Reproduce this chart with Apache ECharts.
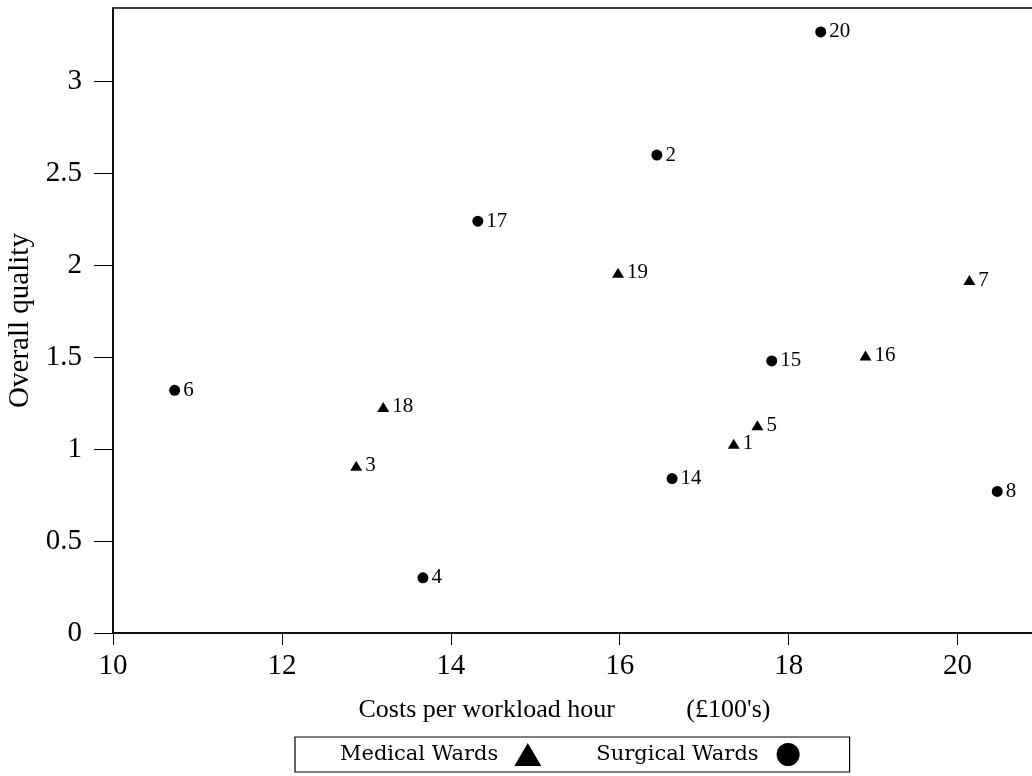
<!DOCTYPE html>
<html>
<head>
<meta charset="utf-8">
<script src="https://cdn.jsdelivr.net/npm/echarts@6/dist/echarts.min.js"></script>
<style>
  html, body { margin: 0; padding: 0; background: #fff; }
  #main { width: 1032px; height: 776px; }
</style>
</head>
<body>
<div id="main"></div>
<script>
// ward numbers and positions
const medicalWards = ["1", "3", "5", "7", "16", "18", "19"];
const medicalCost = [17.35, 12.88, 17.63, 20.14, 18.91, 13.2, 15.98];
const medicalQuality = [1.03, 0.91, 1.13, 1.92, 1.51, 1.23, 1.96];

const surgicalWards = ["2", "4", "6", "8", "14", "15", "17", "20"];
const surgicalCost = [16.44, 13.67, 10.73, 20.47, 16.62, 17.8, 14.32, 18.38];
const surgicalQuality = [2.6, 0.3, 1.32, 0.77, 0.84, 1.48, 2.24, 3.27];

const xTicks = [10, 12, 14, 16, 18, 20];
const yTicks = [0, 0.5, 1, 1.5, 2, 2.5, 3];

const serif = "Liberation Serif";

function points(ids, xs, ys) {
  return ids.map((id, i) => [xs[i], ys[i], id]);
}

const chart = echarts.init(document.getElementById("main"));

const pointLabel = {
  show: true,
  position: "right",
  distance: 3,
  formatter: (p) => p.value[2],
  color: "#000",
  fontFamily: serif,
  fontSize: 21,
};

chart.setOption({
  animation: false,
  grid: {
    left: 113,
    top: 8,
    right: -10,
    bottom: 143,
    outerBoundsMode: "none",
    show: true,
    borderColor: "#000",
    borderWidth: 1.5,
  },
  legend: {
    left: 295,
    top: 737,
    orient: "horizontal",
    align: "right",
    padding: [6, 50, 6, 45],
    itemGap: 55,
    itemWidth: 27,
    itemHeight: 23,
    borderColor: "#000",
    borderWidth: 1.2,
    itemStyle: { opacity: 1 },
    textStyle: {
      fontFamily: "DejaVu Serif",
      fontSize: 21,
      color: "#000",
      padding: [0, 11, 0, 0],
    },
    data: [
      { name: "Medical Wards", icon: "triangle" },
      { name: "Surgical Wards", icon: "circle" },
    ],
  },
  xAxis: {
    type: "value",
    min: 10,
    max: 21,
    interval: 2,
    name: "Costs per workload hour           (£100's)",
    nameLocation: "middle",
    nameGap: 64,
    nameTextStyle: {
      fontFamily: serif,
      fontSize: 26,
      color: "#000",
      padding: [0, 26, 0, 0],
    },
    axisLine: { lineStyle: { color: "#000", width: 1.5 } },
    axisTick: {
      length: 12,
      customValues: xTicks,
      lineStyle: { color: "#000" },
    },
    axisLabel: {
      customValues: xTicks,
      margin: 19,
      fontFamily: serif,
      fontSize: 29,
      color: "#000",
    },
    splitLine: { show: false },
  },
  yAxis: {
    type: "value",
    min: 0,
    max: 3.4,
    interval: 0.5,
    name: "Overall quality",
    nameLocation: "middle",
    nameRotate: 90,
    nameGap: 73,
    nameTextStyle: { fontFamily: serif, fontSize: 29, color: "#000" },
    axisLine: { lineStyle: { color: "#000", width: 1.5 } },
    axisTick: {
      length: 19,
      customValues: yTicks,
      lineStyle: { color: "#000" },
    },
    axisLabel: {
      customValues: yTicks,
      margin: 31,
      fontFamily: serif,
      fontSize: 29,
      color: "#000",
    },
    splitLine: { show: false },
  },
  series: [
    {
      name: "Medical Wards",
      type: "scatter",
      symbol: "triangle",
      symbolSize: [12, 10],
      itemStyle: { color: "#000", opacity: 1 },
      label: pointLabel,
      data: points(medicalWards, medicalCost, medicalQuality),
    },
    {
      name: "Surgical Wards",
      type: "scatter",
      symbol: "circle",
      symbolSize: 11,
      itemStyle: { color: "#000", opacity: 1 },
      label: pointLabel,
      data: points(surgicalWards, surgicalCost, surgicalQuality),
    },
  ],
});
</script>
</body>
</html>
